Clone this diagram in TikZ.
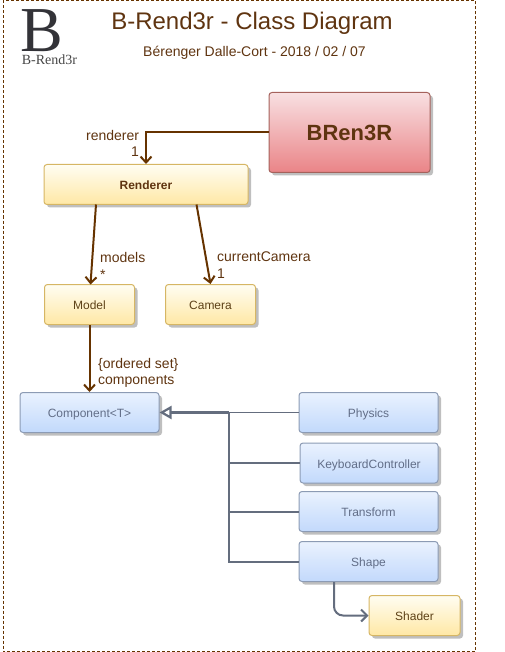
\documentclass[tikz,border=0pt]{standalone}
\usepackage{fontspec}
\setmainfont{Liberation Sans}
\newfontfamily\logofont{Liberation Serif}
\usetikzlibrary{arrows.meta,shadows}

\definecolor{brownline}{HTML}{663300}
\definecolor{brownlabel}{HTML}{5F3410}
\definecolor{greyline}{HTML}{646D7E}
\tikzset{
  classbox/.style={rounded corners=3pt,line width=1pt,inner sep=0pt,minimum height=40pt,text height=10.4pt,text depth=0pt,
    general shadow={shadow xshift=3pt,shadow yshift=-3pt,fill=black!25,opacity=1}},
  yellowbox/.style={classbox,draw={rgb,255:red,214;green,182;blue,100},top color={rgb,255:red,255;green,253;blue,242},
    bottom color={rgb,255:red,255;green,232;blue,165},text={rgb,255:red,94;green,66;blue,24},font=\fontsize{12}{14}\selectfont},
  bluebox/.style={classbox,draw={rgb,255:red,140;green,155;blue,180},top color={rgb,255:red,234;green,242;blue,254},
    bottom color={rgb,255:red,194;green,217;blue,252},text={rgb,255:red,98;green,110;blue,136},font=\fontsize{12}{14}\selectfont},
  redbox/.style={classbox,text height=15.8pt,text depth=0.3pt,draw={rgb,255:red,165;green,98;blue,92},top color={rgb,255:red,248;green,224;blue,226},
    bottom color={rgb,255:red,234;green,132;blue,135},text=brownlabel,font=\bfseries\fontsize{22}{26}\selectfont},
  lbl/.style={text=brownlabel,inner sep=0pt,align=left,font=\fontsize{14}{16.5}\selectfont},
  assoc/.style={draw=brownline,line width=2pt,-{Straight Barb[length=6pt,width=11pt,line width=2pt]}},
  inherit/.style={draw=greyline,line width=2pt},
}

\begin{document}
\begin{tikzpicture}[x=1pt,y=-1pt]
\useasboundingbox (0,0) rectangle (504,652);
\draw[brownline,line width=1pt,dash pattern=on 3pt off 2pt] (3,0.5) rectangle (475,651.5);

% header
\node[lbl,font=\fontsize{24}{28}\selectfont] (title) at (252,23) {B-Rend3r - Class Diagram};
\node[lbl] (subtitle) at (254.5,53) {Bérenger Dalle-Cort - 2018 / 02 / 07};
\node[inner sep=0pt,text={rgb,255:red,51;green,51;blue,56},font=\logofont\fontsize{64}{64}\selectfont] (logo) at (42,31) {B};
\node[inner sep=0pt,text={rgb,255:red,70;green,70;blue,70},font=\logofont\fontsize{14}{16}\selectfont] (logotext) at (49.5,60) {B-Rend3r};

% classes
\node[redbox,minimum width=161pt,minimum height=80pt] (BRen3R) at (349.5,132.5) {BRen3R};
\node[yellowbox,minimum width=204pt,font=\bfseries\fontsize{12}{14}\selectfont,text=brownlabel] (Renderer) at (146,184.5) {Renderer};
\node[yellowbox,minimum width=90pt] (Model) at (89.5,304.5) {Model};
\node[yellowbox,minimum width=90pt] (Camera) at (210.5,304.5) {Camera};
\node[bluebox,minimum width=139pt] (Component) at (89.5,412.5) {Component<T>};
\node[bluebox,minimum width=139pt] (Physics) at (368.5,412.5) {Physics};
\node[bluebox,minimum width=138pt] (Keyboard) at (369,463) {KeyboardController};
\node[bluebox,minimum width=139pt] (Transform) at (368.5,511.5) {Transform};
\node[bluebox,minimum width=139pt] (Shape) at (368.5,561.5) {Shape};
\node[yellowbox,minimum width=91pt] (Shader) at (414.5,615.5) {Shader};

% free ends on the Renderer and Shape borders
\path (96,204.5) coordinate (RendererA) (196.5,204.5) coordinate (RendererB)
(90.5,284.5) coordinate (ModelIn) (334,582) coordinate (ShapeOut) (229,412.5) coordinate (bus);

% associations
\draw[assoc] (BRen3R.west) -| (Renderer.north);
\draw[assoc] (RendererA) -- (ModelIn);
\draw[assoc] (RendererB) -- (Camera.north);
\draw[assoc] (Model.south) -- (Component.north);

% inheritance
\draw[inherit,line width=1.8pt] (Physics.west) -- (bus);
\draw[inherit] (Keyboard.west) -| (bus);
\draw[inherit] (Transform.west) -| (bus);
\draw[inherit] (Shape.west) -| (bus);
\draw[inherit,line width=2.5pt,-{Triangle[open,length=12pt,width=13pt,line width=2.2pt]}] (bus) -- (Component.east);

% composition
\draw[inherit,rounded corners=9pt,-{Straight Barb[length=6pt,width=12pt,line width=2pt]}] (ShapeOut) |- (Shader.west);

% labels
\node[lbl,anchor=west] (lblrenderer) at (86,135.5) {renderer};
\node[lbl,anchor=west] (lblone) at (131,151.5) {1};
\node[lbl,anchor=north west] (lblmodels) at (100,252.5) {models\\*};
\node[lbl,anchor=north west] (lblcamera) at (217,252) {currentCamera\\1};
\node[lbl,anchor=north west] (lblcomponents) at (98,358) {\{ordered set\}\\components};
\end{tikzpicture}
\end{document}
